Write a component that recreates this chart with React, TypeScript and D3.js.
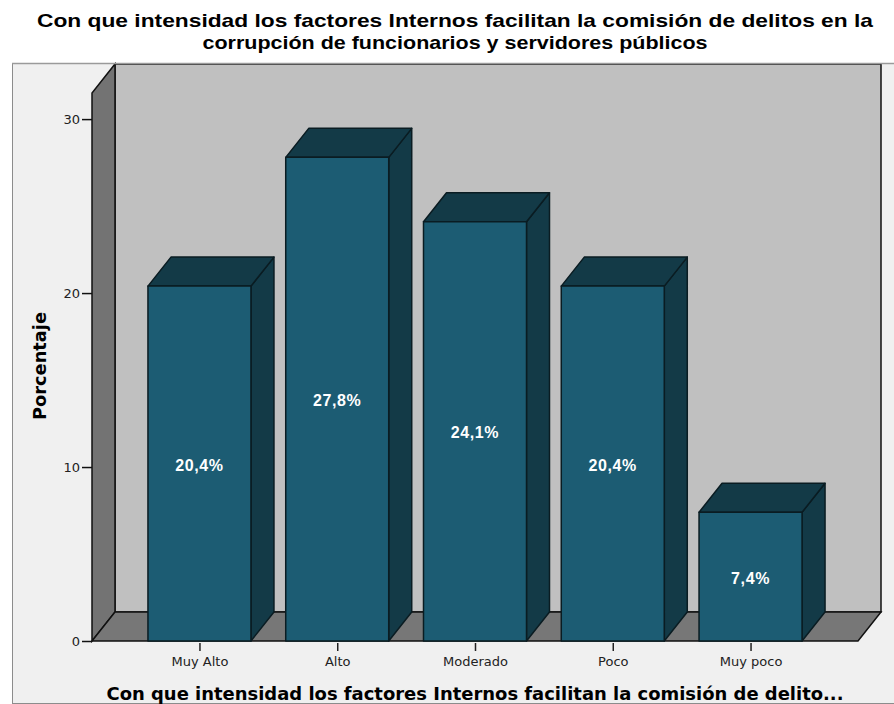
import * as d3 from 'd3'
import {useRef, useEffect} from 'react'

const categories: string[] = ['Muy Alto', 'Alto', 'Moderado', 'Poco', 'Muy poco']
const percentages: number[] = [20.4, 27.8, 24.1, 20.4, 7.4]
const barLabels: string[] = ['20,4%', '27,8%', '24,1%', '20,4%', '7,4%']
const yTicks: number[] = [0, 10, 20, 30]
const titleLines: string[] = [
  'Con que intensidad los factores Internos facilitan la comisión de delitos en la',
  'corrupción de funcionarios y servidores públicos',
]
const titleWidths: number[] = [836, 505]
const xTitle = 'Con que intensidad los factores Internos facilitan la comisión de delito...'
const yTitle = 'Porcentaje'

const svgWidth = 894
const svgHeight = 704

const App = () => {
  const svgRef = useRef(null)

  const drawChart = (): void => {
    const SVG = d3.select(svgRef.current)
    SVG.selectAll('*').remove()
    SVG.attr('width', svgWidth).attr('height', svgHeight)

    const font = '"Liberation Sans", Arial, sans-serif'
    const font2 = '"DejaVu Sans", Verdana, sans-serif'
    // depth of the 3d projection
    const dx = 23
    const dy = 29
    const left = 92
    const right = 858
    const floorY = 641
    const topY = 93

    const xScale = d3.scalePoint<string>()
      .domain(categories)
      .range([left, right])
      .padding(0.78)
    const yScale = d3.scaleLinear()
      .domain([0, 31.5])
      .range([floorY, topY])

    SVG.append('rect').attr('width', svgWidth).attr('height', svgHeight).attr('fill', '#ffffff')

    // frame
    SVG.append('rect')
      .attr('x', 12.5).attr('y', 63.5)
      .attr('width', svgWidth).attr('height', 640)
      .attr('fill', '#f0f0f0')
      .attr('stroke', '#8c8c8c')
      .attr('stroke-width', 1)

    const poly = (pts: [number, number][]) => pts.map(p => p.join(',')).join(' ')

    // back wall
    SVG.append('rect')
      .attr('x', left + dx).attr('y', topY - dy)
      .attr('width', right - left).attr('height', floorY - topY)
      .attr('fill', '#c0c0c0')
      .attr('stroke', '#111').attr('stroke-width', 1.5)

    // side wall
    SVG.append('polygon')
      .attr('points', poly([[left, floorY], [left, topY], [left + dx, topY - dy], [left + dx, floorY - dy]]))
      .attr('fill', '#737373')
      .attr('stroke', '#111').attr('stroke-width', 1.5)

    // floor
    SVG.append('polygon')
      .attr('points', poly([[left, floorY], [right, floorY], [right + dx, floorY - dy], [left + dx, floorY - dy]]))
      .attr('fill', '#777777')
      .attr('stroke', '#111').attr('stroke-width', 1.5)

    // frame top edge over the walls
    SVG.append('line')
      .attr('x1', 12).attr('x2', svgWidth).attr('y1', 63.5).attr('y2', 63.5)
      .attr('stroke', '#9a9a9a').attr('stroke-width', 1.5)

    const barW = 103
    const bars = SVG.append('g')
    categories.forEach((c, i) => {
      const cx = xScale(c)!
      const x0 = cx - barW / 2
      const x1 = cx + barW / 2
      const yt = yScale(percentages[i])
      const y0 = yScale(0)
      const g = bars.append('g').attr('stroke', '#0a1c22').attr('stroke-width', 1.5).attr('stroke-linejoin', 'round')
      g.append('polygon')
        .attr('points', poly([[x1, yt], [x1 + dx, yt - dy], [x1 + dx, y0 - dy], [x1, y0]]))
        .attr('fill', '#133a47')
      g.append('polygon')
        .attr('points', poly([[x0, yt], [x1, yt], [x1 + dx, yt - dy], [x0 + dx, yt - dy]]))
        .attr('fill', '#133a47')
      g.append('rect')
        .attr('x', x0).attr('y', yt).attr('width', barW).attr('height', y0 - yt)
        .attr('fill', '#1c5c73')
      bars.append('text')
        .attr('x', cx).attr('y', (yt + y0) / 2 + 7)
        .attr('text-anchor', 'middle')
        .attr('font-family', font).attr('font-weight', 'bold').attr('font-size', 16)
        .attr('letter-spacing', 0.6)
        .attr('fill', '#ffffff')
        .text(barLabels[i])
    })

    // y axis
    const yAxis = d3.axisLeft(yScale).tickValues(yTicks).tickSize(10).tickPadding(2).tickFormat(d3.format('d'))
    const yg = SVG.append('g').attr('transform', `translate(${left},0)`).call(yAxis)
    yg.select('.domain').remove()
    yg.selectAll('line').attr('stroke', '#111').attr('stroke-width', 1.5)
    yg.selectAll('text').attr('font-family', font2).attr('font-size', 13).attr('fill', '#222')

    // x axis
    const xAxis = d3.axisBottom(xScale).tickSize(8).tickPadding(6)
    const xg = SVG.append('g').attr('transform', `translate(0,${floorY + 2})`).call(xAxis)
    xg.select('.domain').remove()
    xg.selectAll('line').attr('stroke', '#222').attr('stroke-width', 1.5)
    xg.selectAll('text').attr('font-family', font2).attr('font-size', 13).attr('fill', '#222')

    // titles
    titleLines.forEach((t, i) => {
      SVG.append('text')
        .attr('x', 455).attr('y', 27 + i * 22)
        .attr('text-anchor', 'middle')
        .attr('font-family', font).attr('font-weight', 'bold').attr('font-size', 19)
        .attr('textLength', titleWidths[i]).attr('lengthAdjust', 'spacingAndGlyphs')
        .attr('fill', '#000')
        .text(t)
    })
    SVG.append('text')
      .attr('x', 475).attr('y', 700)
      .attr('text-anchor', 'middle')
      .attr('font-family', font2).attr('font-weight', 'bold').attr('font-size', 17)
      .attr('textLength', 737).attr('lengthAdjust', 'spacingAndGlyphs')
      .attr('fill', '#000')
      .text(xTitle)
    SVG.append('text')
      .attr('transform', 'translate(46,366) rotate(-90)')
      .attr('text-anchor', 'middle')
      .attr('font-family', font2).attr('font-weight', 'bold').attr('font-size', 17)
      .attr('textLength', 108).attr('lengthAdjust', 'spacingAndGlyphs')
      .attr('fill', '#000')
      .text(yTitle)
  }

  useEffect((): void => drawChart(), [])

  return <svg ref={svgRef} style={{position: 'absolute', left: 0, top: 0, display: 'block'}}></svg>
}

export default App
